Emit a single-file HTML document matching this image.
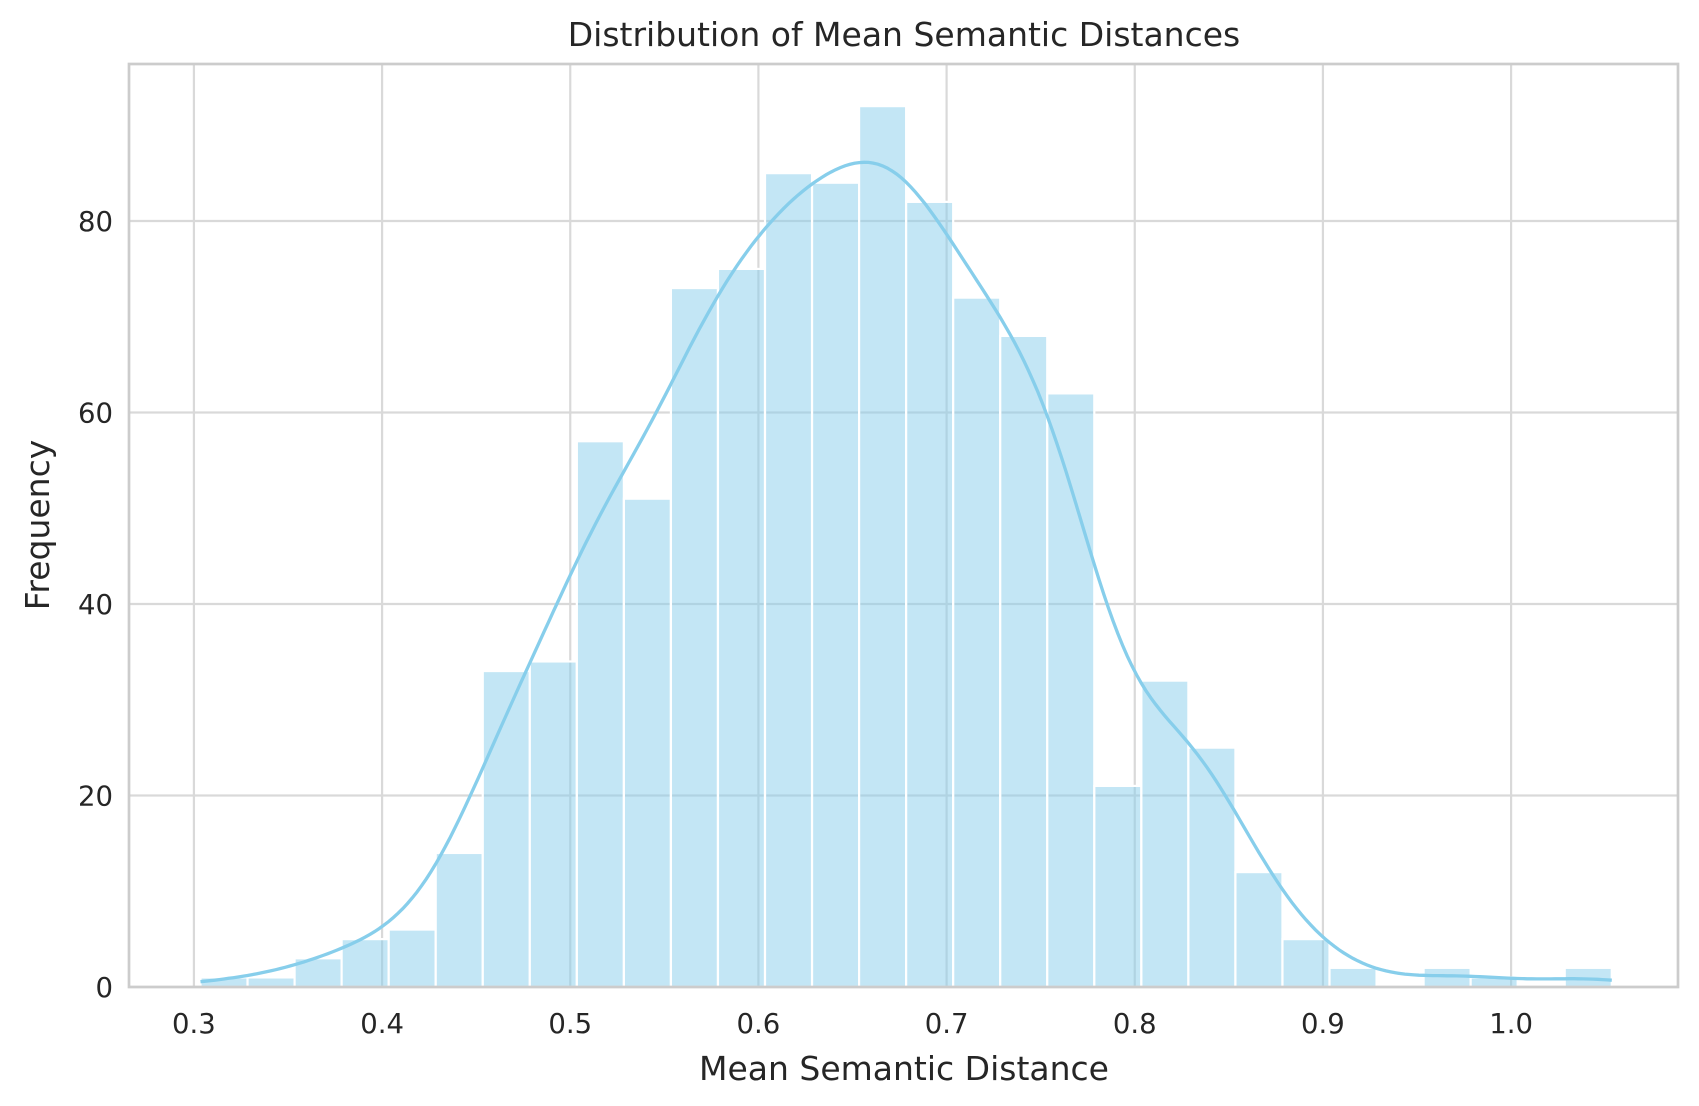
<!DOCTYPE html>
<html><head><meta charset="utf-8"><style>
body{margin:0;background:#fff;}
svg{display:block;font-family:"DejaVu Sans","Liberation Sans",sans-serif;}
</style></head><body>
<svg id="chart" width="1699" height="1106" viewBox="0 0 1699 1106" xmlns="http://www.w3.org/2000/svg">
<rect width="1699" height="1106" fill="#fff"/>
<g id="grid"></g>
<g id="bars"></g>
<path id="kde" fill="none" stroke="#87ceeb" stroke-width="3.3"/>
<rect x="129" y="64" width="1549" height="923" fill="none" stroke="#cccccc" stroke-width="2.7"/>
<g id="ticks" fill="#262626" font-size="27.5"></g>
<text x="904" y="46" text-anchor="middle" font-size="33" fill="#262626">Distribution of Mean Semantic Distances</text>
<text x="904" y="1080" text-anchor="middle" font-size="33" fill="#262626">Mean Semantic Distance</text>
<text transform="translate(49,525) rotate(-90)" text-anchor="middle" font-size="33" fill="#262626">Frequency</text>
</svg>
<script>
const binStart = 0.3035;
const binWidth = 0.025;
const counts = [1,1,3,5,6,14,33,34,57,51,73,75,85,84,92,82,72,68,62,21,32,25,12,5,2,0,2,1,0,2];
const xTicks = [0.3,0.4,0.5,0.6,0.7,0.8,0.9,1.0];
const xTickLabels = ["0.3","0.4","0.5","0.6","0.7","0.8","0.9","1.0"];
const yTicks = [0,20,40,60,80];
const yTickLabels = ["0","20","40","60","80"];

const L=129,R=1678,T=64,B=987;
const xMin=0.2655,xMax=1.0887,yMin=0,yMax=96.4;
const X=v=>L+(v-xMin)/(xMax-xMin)*(R-L);
const Y=v=>B-(v-yMin)/(yMax-yMin)*(B-T);
const NS="http://www.w3.org/2000/svg";
function mk(tag,attrs,parent){const e=document.createElementNS(NS,tag);for(const k in attrs)e.setAttribute(k,attrs[k]);parent.appendChild(e);return e;}
const grid=document.getElementById('grid'),bars=document.getElementById('bars'),ticks=document.getElementById('ticks');
xTicks.forEach((t,i)=>{
  const l=mk('line',{x1:X(t),x2:X(t),y1:T,y2:B,stroke:'#d9d9d9','stroke-width':2.2},grid);
  
  
  const tx=mk('text',{x:X(t),y:B+46,'text-anchor':'middle'},ticks);
  tx.textContent=xTickLabels[i];
  
  
});
yTicks.forEach((t,i)=>{
  const l=mk('line',{x1:L,x2:R,y1:Y(t),y2:Y(t),stroke:'#d9d9d9','stroke-width':2.2},grid);
  
  
  const tx=mk('text',{x:L-16,y:Y(t)+10,'text-anchor':'end'},ticks);
  tx.textContent=yTickLabels[i];
  
  
});
counts.forEach((c,i)=>{
  const x0=X(binStart+i*binWidth),x1=X(binStart+(i+1)*binWidth);
  if(c<=0)return;
  const r=mk('rect',{x:x0,y:Y(c),width:x1-x0,height:Y(0)-Y(c),fill:'rgba(135,206,235,0.5)',stroke:'#fff','stroke-width':2.2},bars);
  
  
});
let n=0,mean=0;counts.forEach((c,i)=>{n+=c;mean+=c*(binStart+(i+.5)*binWidth);});mean/=n;
let v=0;counts.forEach((c,i)=>{const d=binStart+(i+.5)*binWidth-mean;v+=c*d*d;});
const sd=Math.sqrt(v/(n-1)),bw=0.95*sd*Math.pow(n,-0.2);
const lo=binStart,hi=binStart+counts.length*binWidth;
let d='';
for(let k=0;k<=300;k++){
  const x=lo+(hi-lo)*k/300;let s=0;
  counts.forEach((c,i)=>{const z=(x-(binStart+(i+.5)*binWidth))/bw;s+=c*Math.exp(-.5*z*z);});
  const dens=s/(bw*Math.sqrt(2*Math.PI));
  d+=(k?'L':'M')+X(x).toFixed(1)+','+Y(dens*binWidth).toFixed(1);
}
document.getElementById('kde').setAttribute('d',d);
</script>
</body></html>
